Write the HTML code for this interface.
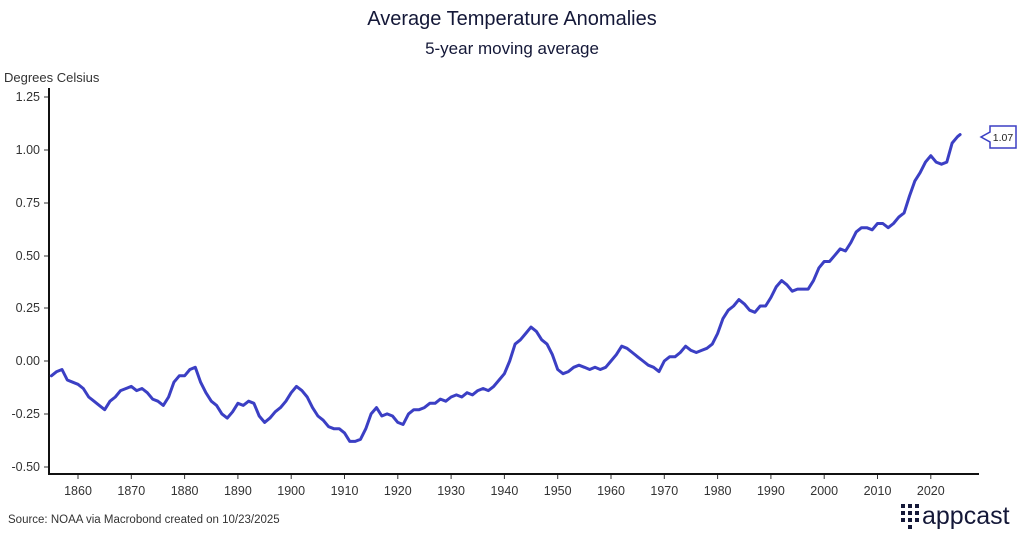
<!DOCTYPE html>
<html><head><meta charset="utf-8"><style>
body{margin:0;background:#fff;width:1024px;height:535px;overflow:hidden;font-family:"Liberation Sans",sans-serif;}
</style></head><body>
<svg id="s" width="1024" height="535" xmlns="http://www.w3.org/2000/svg" font-family="Liberation Sans, sans-serif">
<text x="512" y="25" text-anchor="middle" font-size="20" fill="#141838">Average Temperature Anomalies</text>
<text x="512" y="54" text-anchor="middle" font-size="17" fill="#141838">5-year moving average</text>
<text x="4" y="82" font-size="13" fill="#333">Degrees Celsius</text>
<g font-size="12.5" fill="#333" text-anchor="end">
<text x="40" y="101">1.25</text><text x="40" y="154">1.00</text><text x="40" y="207">0.75</text><text x="40" y="260">0.50</text><text x="40" y="312">0.25</text><text x="40" y="365">0.00</text><text x="40" y="418">-0.25</text><text x="40" y="471">-0.50</text>
</g>
<g stroke="#333" stroke-width="1">
<line x1="44" y1="97" x2="49" y2="97"/><line x1="44" y1="150" x2="49" y2="150"/><line x1="44" y1="203" x2="49" y2="203"/><line x1="44" y1="256" x2="49" y2="256"/><line x1="44" y1="308" x2="49" y2="308"/><line x1="44" y1="361" x2="49" y2="361"/><line x1="44" y1="414" x2="49" y2="414"/><line x1="44" y1="467" x2="49" y2="467"/>
</g>
<g id="xt" font-size="12.5" fill="#333" text-anchor="middle"></g>
<line x1="49" y1="88" x2="49" y2="475" stroke="#111" stroke-width="2"/>
<line x1="48" y1="474" x2="979" y2="474" stroke="#111" stroke-width="2"/>
<polyline id="ln" fill="none" stroke="#3b3fc4" stroke-width="3" stroke-linejoin="round" stroke-linecap="round"/>
<path d="M990 126 H1016 V148 H990 V142 L981 137 L990 132 Z" fill="#fff" stroke="#3b3fc4" stroke-width="1.5"/>
<text x="1003" y="141" text-anchor="middle" font-size="10.5" fill="#222">1.07</text>
<text x="8" y="523" font-size="11.5" fill="#333">Source: NOAA via Macrobond created on 10/23/2025</text>
<g fill="#141838">
<rect x="901" y="504" width="4" height="4"/><rect x="908" y="504" width="4" height="4"/><rect x="915" y="504" width="4" height="4"/>
<rect x="901" y="511" width="4" height="4"/><rect x="908" y="511" width="4" height="4"/><rect x="915" y="511" width="4" height="4"/>
<rect x="908" y="518" width="4" height="4"/><rect x="915" y="518" width="4" height="4"/><rect x="901" y="518" width="4" height="4"/>
<rect x="908" y="525" width="4" height="4"/>
</g>
<text x="922" y="524" font-size="25" fill="#141838">appcast</text>
</svg>
<script>
var d=[-0.07,-0.05,-0.04,-0.09,-0.1,-0.11,-0.13,-0.17,-0.19,-0.21,-0.23,-0.19,-0.17,-0.14,-0.13,-0.12,-0.14,-0.13,-0.15,-0.18,-0.19,-0.21,-0.17,-0.1,-0.07,-0.07,-0.04,-0.03,-0.1,-0.15,-0.19,-0.21,-0.25,-0.27,-0.24,-0.2,-0.21,-0.19,-0.2,-0.26,-0.29,-0.27,-0.24,-0.22,-0.19,-0.15,-0.12,-0.14,-0.17,-0.22,-0.26,-0.28,-0.31,-0.32,-0.32,-0.34,-0.38,-0.38,-0.37,-0.32,-0.25,-0.22,-0.26,-0.25,-0.26,-0.29,-0.3,-0.25,-0.23,-0.23,-0.22,-0.2,-0.2,-0.18,-0.19,-0.17,-0.16,-0.17,-0.15,-0.16,-0.14,-0.13,-0.14,-0.12,-0.09,-0.06,0.0,0.08,0.1,0.13,0.16,0.14,0.1,0.08,0.03,-0.04,-0.06,-0.05,-0.03,-0.02,-0.03,-0.04,-0.03,-0.04,-0.03,0.0,0.03,0.07,0.06,0.04,0.02,0.0,-0.02,-0.03,-0.05,0.0,0.02,0.02,0.04,0.07,0.05,0.04,0.05,0.06,0.08,0.13,0.2,0.24,0.26,0.29,0.27,0.24,0.23,0.26,0.26,0.3,0.35,0.38,0.36,0.33,0.34,0.34,0.34,0.38,0.44,0.47,0.47,0.5,0.53,0.52,0.56,0.61,0.63,0.63,0.62,0.65,0.65,0.63,0.65,0.68,0.7,0.78,0.85,0.89,0.94,0.97,0.94,0.93,0.94,1.03,1.06];
function X(y){return 78+(y-1860)*5.33}function Y(v){return 361-v*211.6}
var p=[];d.forEach(function(v,i){p.push(X(1855+i).toFixed(1)+","+Y(v).toFixed(1))});p.push(X(2025.5).toFixed(1)+","+Y(1.07).toFixed(1));
document.getElementById("ln").setAttribute("points",p.join(" "));
var g=document.getElementById("xt"),h="";
for(var y=1860;y<=2020;y+=10){var x=X(y);h+='<line x1="'+x+'" y1="474" x2="'+x+'" y2="479" stroke="#333"/><text x="'+x+'" y="495">'+y+'</text>';}
g.innerHTML=h;
</script>
</body></html>
